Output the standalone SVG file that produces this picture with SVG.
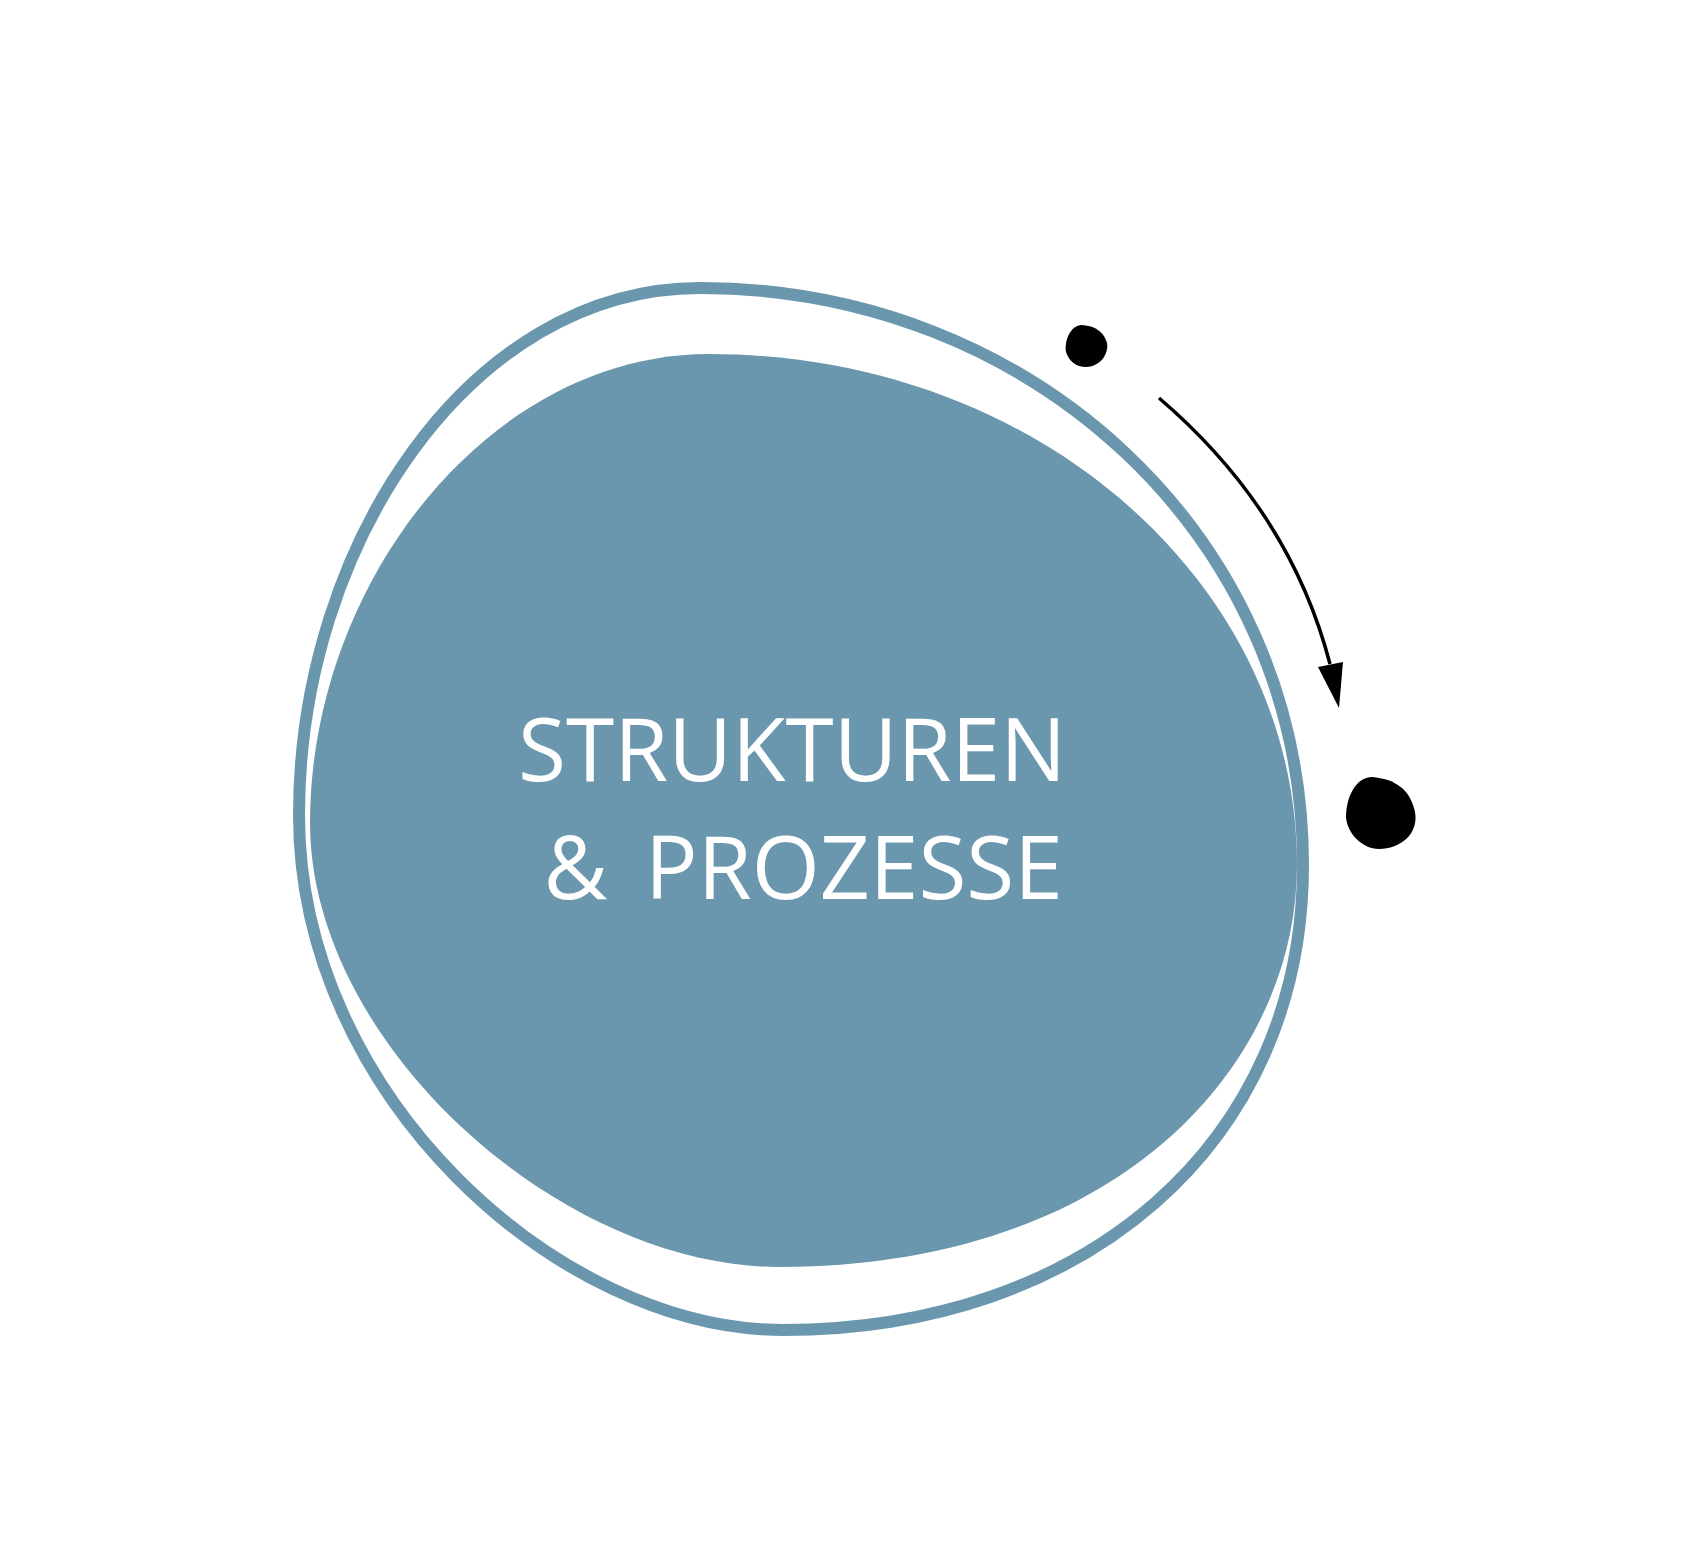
<svg xmlns="http://www.w3.org/2000/svg" width="1708" height="1567" viewBox="0 0 1708 1567">
<style>
.ring{fill:none;stroke:#6A97AD;stroke-width:12}
.blob{fill:#6A97AD}
.lbl{font-family:"Open Sans","Noto Sans","Liberation Sans",sans-serif;font-size:87.5px;fill:#FFFFFF;text-anchor:middle}
.dot{fill:#000000}
.conn{fill:none;stroke:#000000;stroke-width:3.5}
</style>
<rect x="0" y="0" width="1708" height="1567" fill="#FFFFFF"/>
<g id="outer-ring">
<path class="ring" d="M 700 288 C 1030 288, 1303 535, 1303 865 C 1303 1145, 1083 1330, 783 1330 C 558 1330, 299 1095, 299 815 C 299 545, 470 288, 700 288 Z"/>
</g>
<g id="node-strukturen-prozesse">
<path class="blob" d="M 709 354 C 1039 354, 1297 585, 1297 865 C 1297 1065, 1119 1267, 779 1267 C 559 1267, 310 1043, 310 823 C 310 583, 489 354, 709 354 Z"/>
<text class="lbl" x="792" y="781">STRUKTUREN</text>
<text class="lbl" y="899"><tspan x="587">&amp; </tspan><tspan x="854">PROZESSE</tspan></text>
</g>
<g id="dot-small">
<path class="dot" d="M 1082 325 C 1097 326, 1104 333, 1107 343 C 1109 356, 1098 367, 1086 367 C 1076 367, 1069 361, 1066 352 C 1064 342, 1070 325, 1082 325 Z"/>
</g>
<g id="dot-large">
<path class="dot" d="M 1372 777 C 1395 779, 1410 789, 1415 812 C 1419 834, 1400 849, 1379 849 C 1362 849, 1347 833, 1346 817 C 1346 797, 1356 777, 1372 777 Z"/>
</g>
<g id="connectors">
<path class="conn" d="M 1159 398 Q 1290 510, 1330 664"/>
<polygon fill="#000000" points="1318,667 1343,662 1339,708"/>
</g>
</svg>
